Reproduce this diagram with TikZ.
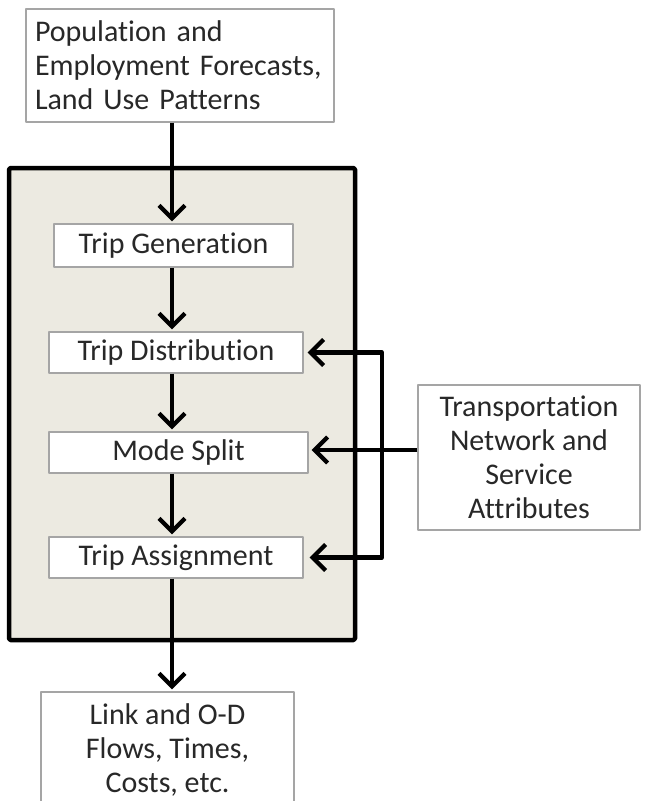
\documentclass[tikz,border=0pt]{standalone}
\usepackage{fontspec}
\setmainfont{Carlito}[Ligatures=NoCommon]
\usetikzlibrary{arrows.meta,calc}
\definecolor{panelbg}{RGB}{236,234,225}
\definecolor{boxline}{RGB}{165,165,165}
\definecolor{txt}{RGB}{40,40,40}
\begin{document}
\begin{tikzpicture}[line join=round, x=1pt, y=-1pt,
	>={Straight Barb[length=13pt,width=26pt]}]
			\tikzset{every node/.style={font=\fontsize{30}{34}\selectfont, text=txt},
				whitebox/.style={draw=boxline, line width=1.2pt, fill=white, inner sep=0pt, align=center},
				flow/.style={->, line width=4.2pt, shorten >=2pt}}
			\useasboundingbox (0,0) rectangle (645,801);
			% the model frame
			\node[draw=black, line width=4.5pt, fill=panelbg, rounded corners=1.5pt,
				minimum width=346pt, minimum height=472pt] (frame) at (182,404) {};
			% input / output boxes
			\node[whitebox, minimum width=308pt, minimum height=113pt, align=left,
				text width=290pt] (pop) at (180,65.5)
				{Population and\\Employment Forecasts,\\Land Use Patterns};
			\node[whitebox, minimum width=222pt, minimum height=145pt] (net) at (529,457.5)
				{Transportation\\Network and\\Service\\Attributes};
			\node[whitebox, minimum width=253pt, minimum height=116pt] (res) at (167.5,750)
				{Link and O-D\\Flows, Times,\\Costs, etc.};
			% the four steps
			\node[whitebox, minimum width=239pt, minimum height=43pt] (gen) at (173.5,245.5) {Trip Generation};
			\node[whitebox, minimum width=254pt, minimum height=41pt] (dist) at (176,352.5) {Trip Distribution};
			\node[whitebox, minimum width=259pt, minimum height=41pt] (mode) at (178.5,452.5) {Mode Split};
			\node[whitebox, minimum width=254pt, minimum height=41pt] (assign) at (176,557.5) {Trip Assignment};
			\coordinate (bus) at (382,0);
			\coordinate (main) at (172,0);
			% connectors
			\draw[flow] (main |- pop.south) -- (main |- gen.north);
			\draw[flow] (main |- gen.south) -- (main |- dist.north);
			\draw[flow] (main |- dist.south) -- (main |- mode.north);
			\draw[flow] (main |- mode.south) -- (main |- assign.north);
			\draw[flow] (main |- assign.south) -- (main |- res.north);
			\draw[flow, shorten >=3pt] (net.west |- 0,450) -- (mode.east |- 0,450);
			\draw[flow, shorten >=4pt] (bus |- 0,450) |- (dist.east);
			\draw[flow, shorten >=6pt] (bus |- 0,450) |- (assign.east);
		\end{tikzpicture}
\end{document}
